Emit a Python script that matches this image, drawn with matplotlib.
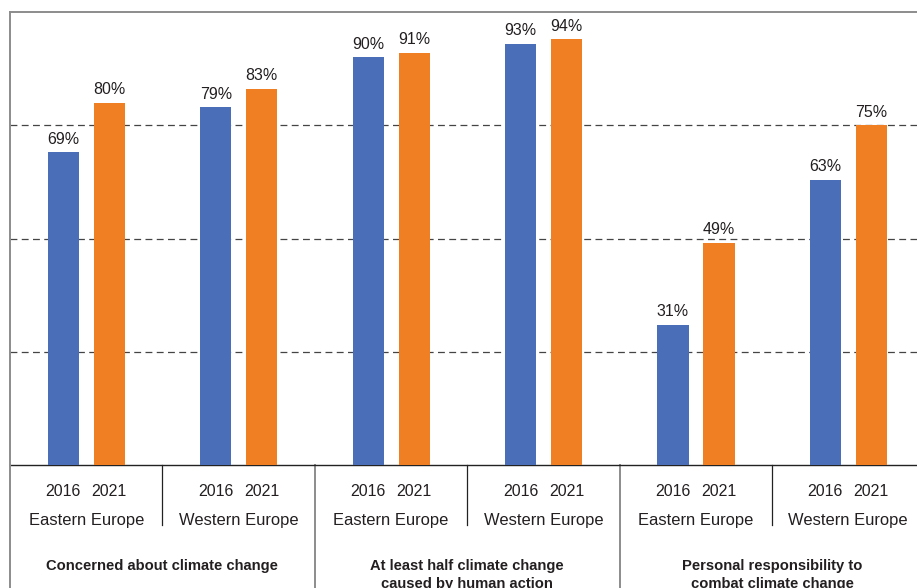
"""Climate attitudes in Eastern vs Western Europe, 2016 vs 2021 (grouped bars)."""
import matplotlib
matplotlib.use("Agg")
import matplotlib.pyplot as plt
from matplotlib.lines import Line2D

plt.rcParams["font.family"] = ["Liberation Sans", "DejaVu Sans"]

# data, one entry per sub-group (left to right)
TOPICS = ["Concerned about climate change",
          "At least half climate change\ncaused by human action",
          "Personal responsibility to\ncombat climate change"]
REGIONS = ["Eastern Europe", "Western Europe"] * 3
YEARS = ["2016", "2021"]
VALS_2016 = [69, 79, 90, 93, 31, 63]
VALS_2021 = [80, 83, 91, 94, 49, 75]

BLUE = "#4A6FB8"
ORANGE = "#EF7F22"
TEXT = "#231F20"

W_PX, H_PX, DPI = 917, 588, 100
AX_L, AX_T, AX_B = 10, 12, 465          # pixel frame of the plot area


def main():
    fig = plt.figure(figsize=(W_PX / DPI, H_PX / DPI), dpi=DPI)
    ax = fig.add_axes([AX_L / W_PX, (H_PX - AX_B) / H_PX,
                       (W_PX - AX_L) / W_PX, (AX_B - AX_T) / H_PX])
    n = len(REGIONS)
    xs = range(n)
    bw = 0.205
    b1 = ax.bar([x + 0.35 for x in xs], VALS_2016, bw, color=BLUE, zorder=3)
    b2 = ax.bar([x + 0.652 for x in xs], VALS_2021, bw, color=ORANGE, zorder=3)
    for bars in (b1, b2):
        ax.bar_label(bars, labels=[f"{v}%" for v in bars.datavalues],
                     padding=4, fontsize=11.5, color=TEXT)

    ax.set_xlim(0, (W_PX - AX_L) / 152.4)
    ax.set_ylim(0, 100)
    for y in (25, 50, 75):
        ax.axhline(y, color="#444444", lw=0.9, ls=(0, (5.5, 3.5)), zorder=1)
    ax.set_xticks([]); ax.set_yticks([])
    for s in ("right", "left"):
        ax.spines[s].set_visible(False)
    ax.spines["top"].set_color("#8C8C8C"); ax.spines["top"].set_linewidth(1.4)
    ax.spines["bottom"].set_color("#222222"); ax.spines["bottom"].set_linewidth(1.0)

    # pixel y -> axes fraction (below the axis is negative)
    ay = lambda py: (AX_B - py) / (AX_B - AX_T)
    tr = ax.get_xaxis_transform()

    # left border, group and sub-group separators
    fig.add_artist(Line2D([AX_L / W_PX] * 2, [0, 1 - AX_T / H_PX],
                          color="#8C8C8C", lw=1.4))
    for x in range(1, n):
        long_sep = x % 2 == 0
        ax.add_line(Line2D([x, x], [0, ay(H_PX if long_sep else 525)],
                           transform=tr, clip_on=False, lw=1.4 if long_sep else 0.9,
                           color="#8C8C8C" if long_sep else "#222222"))

    for i, region in enumerate(REGIONS):
        ax.text(i + 0.35, ay(491), YEARS[0], transform=tr, ha="center",
                va="center", fontsize=11.5, color=TEXT)
        ax.text(i + 0.652, ay(491), YEARS[1], transform=tr, ha="center",
                va="center", fontsize=11.5, color=TEXT)
        ax.text(i + 0.5, ay(521), region, transform=tr, ha="center",
                va="center", fontsize=11.9, color=TEXT)
    for g, topic in enumerate(TOPICS):
        ax.text(2 * g + 1, ay(559), topic, transform=tr, ha="center", va="top",
                fontsize=10.6, fontweight="bold", color=TEXT, linespacing=1.33)

    fig.savefig("out.png", dpi=DPI)
    plt.close(fig)


if __name__ == "__main__":
    main()
